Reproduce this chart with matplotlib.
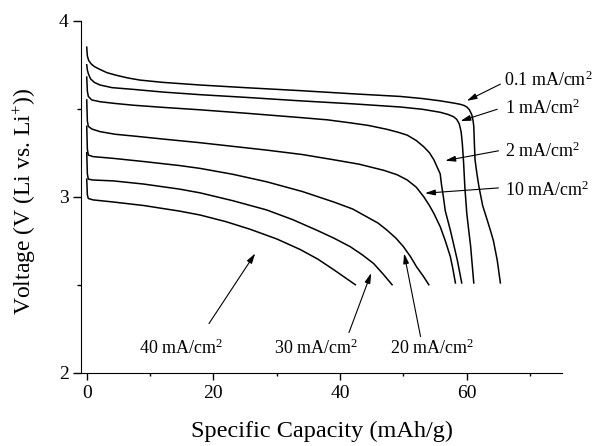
import matplotlib
matplotlib.use('Agg')
import matplotlib.pyplot as plt
from matplotlib.ticker import MultipleLocator

plt.rcParams['font.family'] = ['Liberation Serif', 'DejaVu Serif']
plt.rcParams['mathtext.fontset'] = 'custom'
plt.rcParams['mathtext.rm'] = 'Liberation Serif'
plt.rcParams['mathtext.it'] = 'Liberation Serif:italic'

# discharge curves, capacity (mAh/g) vs voltage (V)
cap_01 = [0, 0.1, 0.3, 0.7, 1.2, 2.0, 3.2, 4.7, 6.5, 8.4, 12, 17.9, 25, 33.7, 42, 49.5, 53, 55.8, 58, 59.0,
          59.6, 60.0, 60.4, 60.8, 61.0, 61.1, 61.2, 61.3, 61.6, 61.9, 62.5, 63.2, 63.8, 64.2, 64.8, 65.3]
v_01 = [3.85, 3.80, 3.775, 3.755, 3.74, 3.725, 3.705, 3.69, 3.675, 3.663, 3.65, 3.635, 3.62, 3.603, 3.585, 3.57,
        3.558, 3.545, 3.532, 3.525, 3.518, 3.51, 3.495, 3.465, 3.43, 3.40, 3.30, 3.21, 3.13, 3.06, 2.95, 2.87,
        2.80, 2.75, 2.64, 2.51]

cap_1 = [0, 0.1, 0.25, 0.6, 1.2, 2.1, 4, 7.4, 12, 17.9, 25, 33.7, 42, 49.5, 53, 55.8, 57.0, 57.9, 58.4, 58.8,
         59.1, 59.3, 59.5, 59.7, 60.0, 60.3, 60.6, 61.1]
v_1 = [3.75, 3.72, 3.70, 3.67, 3.65, 3.635, 3.62, 3.61, 3.595, 3.58, 3.565, 3.545, 3.528, 3.51, 3.497, 3.48,
       3.468, 3.455, 3.44, 3.415, 3.37, 3.30, 3.19, 3.05, 2.905, 2.81, 2.72, 2.51]

cap_2 = [0, 0.1, 0.25, 0.8, 2.1, 4.5, 7.4, 12, 17.9, 25, 33.7, 38, 41.6, 44.5, 47.4, 49.2, 50.6, 52, 53.2, 54.1,
         54.8, 55.3, 55.8, 56.0, 56.3, 56.6, 57.4, 58.5, 59.2]
v_2 = [3.68, 3.60, 3.57, 3.55, 3.54, 3.53, 3.52, 3.508, 3.494, 3.475, 3.45, 3.437, 3.42, 3.405, 3.383, 3.366,
       3.35, 3.32, 3.284, 3.25, 3.21, 3.17, 3.13, 3.07, 3.0, 2.92, 2.81, 2.64, 2.51]

cap_10 = [0, 0.1, 0.25, 0.8, 2.1, 4.5, 7.4, 12, 17.9, 28.4, 34, 39, 43, 46.9, 49, 50.6, 52, 53.2, 54.1, 54.8,
          55.8, 56.6, 57.4, 57.8, 58.2]
v_10 = [3.55, 3.43, 3.40, 3.385, 3.37, 3.355, 3.345, 3.328, 3.307, 3.265, 3.24, 3.21, 3.185, 3.15, 3.125, 3.095,
        3.055, 3.0, 2.95, 2.905, 2.83, 2.75, 2.66, 2.59, 2.51]

cap_20 = [0, 0.1, 0.25, 1, 4.2, 9, 14.7, 17.9, 23, 28.4, 34, 39, 42, 44.2, 46, 47.4, 48.8, 50.0, 51.1, 52.1, 53.1, 54.0]
v_20 = [3.40, 3.27, 3.237, 3.228, 3.218, 3.20, 3.177, 3.161, 3.128, 3.085, 3.03, 2.97, 2.93, 2.886, 2.85, 2.81,
        2.765, 2.716, 2.66, 2.60, 2.55, 2.50]

cap_30 = [0, 0.1, 0.25, 1, 4.2, 9, 14.7, 17.9, 23, 28.4, 32.5, 36.3, 39, 41.6, 43.5, 45.3, 46.8, 48.2]
v_30 = [3.25, 3.13, 3.10, 3.095, 3.09, 3.072, 3.043, 3.022, 2.978, 2.925, 2.87, 2.81, 2.765, 2.716, 2.67, 2.62,
        2.56, 2.50]

cap_40 = [0, 0.1, 0.25, 1, 4.2, 9, 14.7, 17.9, 22, 25.8, 30, 33.7, 36.5, 39, 40.8, 42.4]
v_40 = [3.10, 3.01, 2.99, 2.982, 2.97, 2.95, 2.918, 2.896, 2.858, 2.815, 2.76, 2.70, 2.645, 2.585, 2.54, 2.50]

curves = [(cap_01, v_01), (cap_1, v_1), (cap_2, v_2), (cap_10, v_10),
          (cap_20, v_20), (cap_30, v_30), (cap_40, v_40)]

# annotation text, text position, arrow tail, arrow tip (data coords)
labels = ['0.1 mA/cm$^{2}$', '1 mA/cm$^{2}$', '2 mA/cm$^{2}$', '10 mA/cm$^{2}$',
          '20 mA/cm$^{2}$', '30 mA/cm$^{2}$', '40 mA/cm$^{2}$']
text_xy = [(65.9, 3.659), (66.1, 3.502), (66.1, 3.261), (66.1, 3.035),
           (47.8, 2.14), (29.6, 2.14), (8.3, 2.14)]
tail_xy = [(65.3, 3.64), (64.8, 3.497), (65.0, 3.261), (65.0, 3.05),
           (52.7, 2.205), (41.4, 2.228), (19.3, 2.279)]
tip_xy = [(60.0, 3.545), (59.0, 3.43), (56.6, 3.205), (53.4, 3.02),
          (50.1, 2.678), (44.9, 2.566), (26.6, 2.678)]

fig = plt.figure(figsize=(5.98, 4.46), dpi=100)
ax = fig.add_axes([0.1355, 0.1644, 0.804, 0.789])

for cap, v in curves:
    ax.plot(cap, v, color='black', linewidth=1.1)

for txt, (tx, ty), tail, tip in zip(labels, text_xy, tail_xy, tip_xy):
    ax.text(tx, ty, txt, fontsize=13, ha='left', va='center')
    ax.annotate('', xy=tip, xytext=tail,
                arrowprops=dict(arrowstyle='-|>,head_length=0.6,head_width=0.17',
                                color='black', lw=0.8, shrinkA=0, shrinkB=0,
                                mutation_scale=10))

ax.set_xlim(-0.9, 75)
ax.set_ylim(2, 4)
ax.xaxis.set_major_locator(MultipleLocator(20))
ax.xaxis.set_minor_locator(MultipleLocator(10))
ax.yaxis.set_major_locator(MultipleLocator(1))
ax.yaxis.set_minor_locator(MultipleLocator(0.5))

ax.spines['top'].set_visible(False)
ax.spines['right'].set_visible(False)
ax.tick_params(axis='both', which='both', direction='out', width=1, labelsize=14)
ax.tick_params(axis='x', which='major', length=5, pad=4)
ax.tick_params(axis='x', which='minor', length=2.5)
ax.tick_params(axis='y', which='major', length=6, pad=3)
ax.tick_params(axis='y', which='minor', length=2.7)

ax.set_xlabel('Specific Capacity (mAh/g)', fontsize=17.5, va='center')
ax.xaxis.set_label_coords(0.502, -0.168)
ax.set_ylabel('Voltage (V (Li vs. Li$^{+}$))', fontsize=17, va='center')
ax.yaxis.set_label_coords(-0.1164, 0.485)

plt.savefig('out.png', dpi=100)
plt.close()
